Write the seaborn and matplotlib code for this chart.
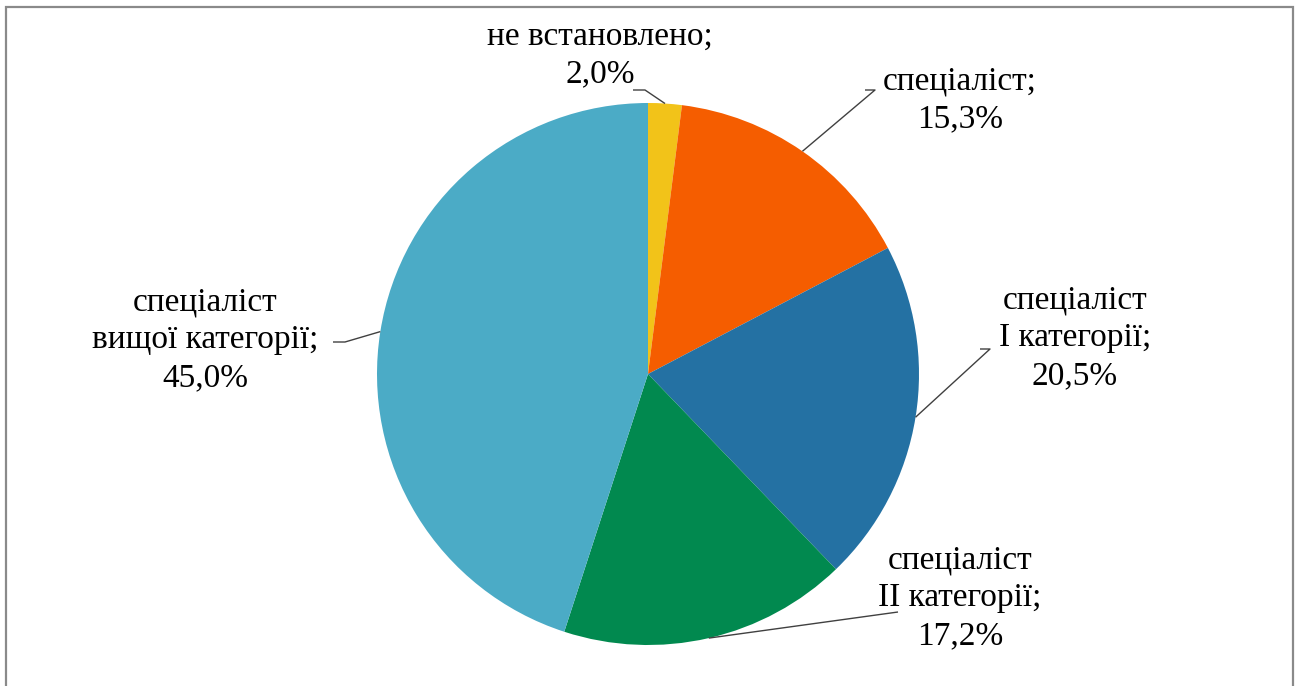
import numpy as np
import matplotlib
matplotlib.use("Agg")
import matplotlib.pyplot as plt
import matplotlib.patches as mpatches
import seaborn as sns

# data
labels = ["не встановлено;\n2,0%", "спеціаліст;\n15,3%",
          "спеціаліст\nI категорії;\n20,5%", "спеціаліст\nII категорії;\n17,2%",
          "спеціаліст\nвищої категорії;\n45,0%"]
values = [2.0, 15.3, 20.5, 17.2, 45.0]
colors = ["#F2C319", "#F55D00", "#2471A3", "#01894F", "#4BABC6"]

# label placement (pixels, y from top) and start of each leader line
label_pos = [(600, 55), (960, 100), (1075, 338), (960, 598), (205, 340)]
leader_start = [(633, 90, 645), (865, 90, 875), (980, 349, 990),
                (898, 612, 898), (333, 342, 345)]

W, H = 1302, 686
cx, cy, R = 648, H - 374, 271

sns.set_style("white")
plt.rcParams['font.family'] = ['Liberation Serif', 'DejaVu Serif']

fig = plt.figure(figsize=(W / 100, H / 100), dpi=100)
ax = fig.add_axes([0, 0, 1, 1])

wedges, _ = ax.pie(values, colors=colors, startangle=90, counterclock=False,
                   center=(cx, cy), radius=R, frame=True,
                   wedgeprops=dict(linewidth=0))
ax.set_xlim(0, W)
ax.set_ylim(0, H)
ax.set_aspect('equal')
ax.axis('off')

for w, lab, pos, st in zip(wedges, labels, label_pos, leader_start):
    # leader goes to the middle of the wedge's arc
    ang = np.deg2rad((w.theta1 + w.theta2) / 2)
    ex, ey = cx + R * np.cos(ang), cy + R * np.sin(ang)
    x0, y0, x1 = st
    ax.plot([x0, x1, ex], [H - y0, H - y0, ey], color="#404040", lw=1.0,
            solid_capstyle='butt')
    ax.text(pos[0], H - pos[1], lab, ha='center', va='center', fontsize=24,
            linespacing=1.3, color="#000000")

frame = mpatches.Rectangle((6, -20), 1287, H - 7 + 20, fill=False,
                           edgecolor="#8a8a8a", linewidth=1.6)
ax.add_patch(frame)

fig.savefig("out.png", dpi=100)
